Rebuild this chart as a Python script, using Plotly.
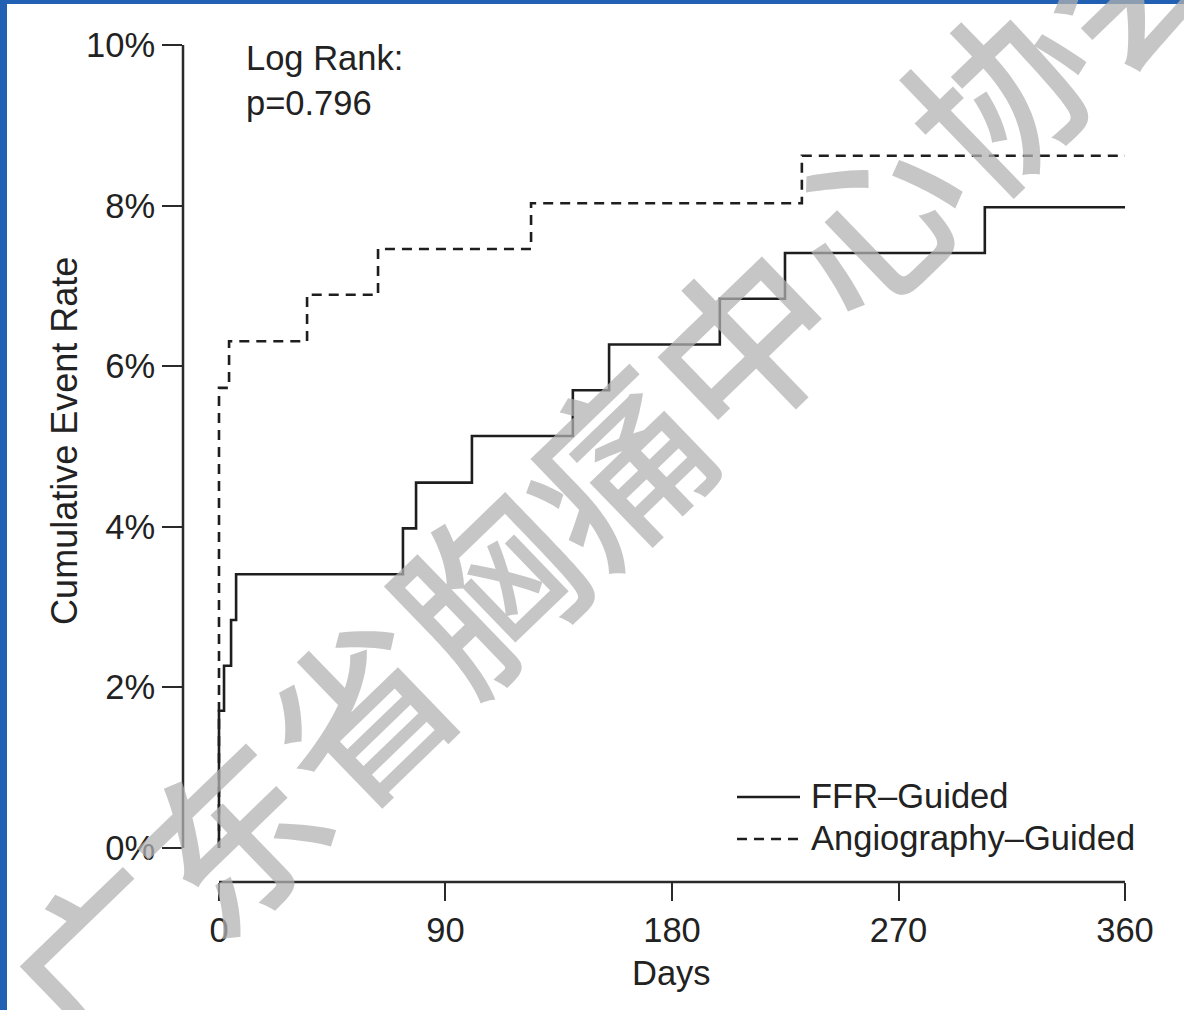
import plotly.graph_objects as go

# ---------------- data ----------------
ffr_days = [0, 0, 2.0, 4.8, 6.8, 73.1, 78.3, 100.5, 140.6, 155.0, 199.0, 224.9, 304.3, 364.7]
ffr_rate = [0, 1.71, 2.27, 2.84, 3.41, 3.98, 4.55, 5.13, 5.70, 6.27, 6.84, 7.41, 7.98, 7.98]

angio_days = [0, 0, 4.0, 35.0, 63.2, 124.0, 231.6, 364.0]
angio_rate = [0, 5.73, 6.31, 6.89, 7.46, 8.03, 8.62, 8.62]

x_ticks = [0, 90, 180, 270, 360]
y_ticks = [0, 2, 4, 6, 8, 10]
y_ticklabels = ["0%", "2%", "4%", "6%", "8%", "10%"]

series_names = ["FFR\u2013Guided", "Angiography\u2013Guided"]
stat_text = "Log Rank:<br>p=0.796"
watermark = "广东省胸痛中心协会"

# ---------------- layout geometry ----------------
W, H = 1184, 1010
L, R, T, B = 183, 59, 45, 128
PW, PH = W - L - R, H - T - B


def px(xp):
    return (xp - L) / PW


def py(yp):
    return 1 - (yp - T) / PH


FONT = "Liberation Sans, Arial, Helvetica, sans-serif"
INK = "#222222"
FS = 34.5

fig = go.Figure()
fig.add_trace(go.Scatter(x=ffr_days, y=ffr_rate, mode="lines", line_shape="hv",
                         name=series_names[0],
                         line=dict(color="#1e1e1e", width=2.6), showlegend=False))
fig.add_trace(go.Scatter(x=angio_days, y=angio_rate, mode="lines", line_shape="hv",
                         name=series_names[1],
                         line=dict(color="#1e1e1e", width=2.6, dash="10px,7px"), showlegend=False))

shapes = []
# detached axis lines
shapes.append(dict(type="line", xref="paper", yref="y", x0=0, x1=0, y0=0, y1=10,
                   line=dict(color="#2a2a2a", width=2.5)))
shapes.append(dict(type="line", xref="x", yref="paper", x0=0, x1=360, y0=0, y1=0,
                   line=dict(color="#2a2a2a", width=2.5)))
# legend samples
shapes.append(dict(type="line", xref="paper", yref="paper", x0=px(737), x1=px(800),
                   y0=py(797), y1=py(797), line=dict(color="#1e1e1e", width=2.6)))
shapes.append(dict(type="line", xref="paper", yref="paper", x0=px(737), x1=px(800),
                   y0=py(839), y1=py(839), line=dict(color="#1e1e1e", width=2.6, dash="10px,7px")))
# blue frame (left and top)
shapes.append(dict(type="rect", xref="paper", yref="paper", x0=px(-5), x1=px(7),
                   y0=py(H + 5), y1=py(-5), fillcolor="#2160b3", line=dict(width=0), layer="above"))
shapes.append(dict(type="rect", xref="paper", yref="paper", x0=px(-5), x1=px(W + 5),
                   y0=py(4), y1=py(-5), fillcolor="#2160b3", line=dict(width=0), layer="above"))

annotations = [
    dict(text=stat_text, xref="paper", yref="paper", x=px(244), y=py(37),
         xanchor="left", yanchor="top", align="left", showarrow=False,
         font=dict(family=FONT, size=FS, color=INK)),
    dict(text="Cumulative Event Rate", xref="paper", yref="y", x=px(65), y=5.07,
         textangle=-90, xanchor="center", yanchor="middle", showarrow=False,
         font=dict(family=FONT, size=36, color=INK)),
    dict(text="Days", xref="x", yref="paper", x=180, y=py(973),
         xanchor="center", yanchor="middle", showarrow=False,
         font=dict(family=FONT, size=FS, color=INK)),
    dict(text=series_names[0], xref="paper", yref="paper", x=px(809), y=py(796),
         xanchor="left", yanchor="middle", showarrow=False,
         font=dict(family=FONT, size=FS, color=INK)),
    dict(text=series_names[1], xref="paper", yref="paper", x=px(809), y=py(838),
         xanchor="left", yanchor="middle", showarrow=False,
         font=dict(family=FONT, size=FS, color=INK)),
    dict(text=watermark, xref="paper", yref="paper", x=px(610), y=py(460),
         xanchor="center", yanchor="middle", textangle=-44, showarrow=False,
         font=dict(family="Noto Sans CJK SC", size=178, weight=500,
                   color="rgba(178,178,178,0.74)")),
]

fig.update_layout(
    width=W, height=H, autosize=False,
    margin=dict(l=L, r=R, t=T, b=B, pad=0),
    paper_bgcolor="white", plot_bgcolor="white",
    shapes=shapes, annotations=annotations,
    showlegend=False,
    xaxis=dict(range=[-14.3, 360], tickvals=x_ticks, ticks="outside", ticklen=18,
               tickwidth=2.2, tickcolor="#2a2a2a", showgrid=False, zeroline=False,
               showline=False, tickfont=dict(family=FONT, size=FS, color=INK)),
    yaxis=dict(range=[-0.4234, 10], tickvals=y_ticks, ticktext=y_ticklabels,
               ticks="outside", ticklen=20, tickwidth=2.2, tickcolor="#2a2a2a",
               showgrid=False, zeroline=False, showline=False,
               tickfont=dict(family=FONT, size=FS, color=INK)),
)

fig.write_html("out.html", config={"displayModeBar": False},
               post_script="document.body.style.margin='0px';")
